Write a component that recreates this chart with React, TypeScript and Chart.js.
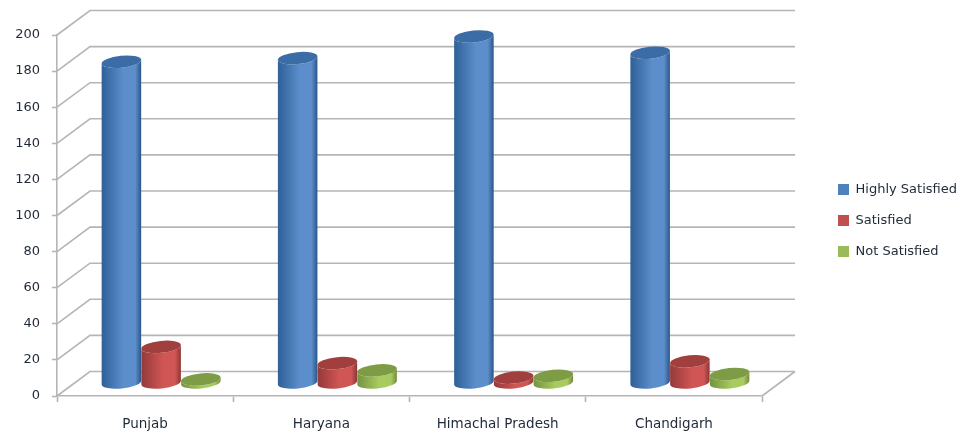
import React, { useEffect, useRef } from "react";
import { Chart, BarController, registerables } from "chart.js";

const categories = ["Punjab", "Haryana", "Himachal Pradesh", "Chandigarh"];
const seriesNames = ["Highly Satisfied", "Satisfied", "Not Satisfied"];
const highlySatisfied = [178, 180, 192, 183];
const satisfied = [20, 11, 3, 12];
const notSatisfied = [2, 7, 4, 5];

const fillColors = ["#4F81BD", "#C0504D", "#9BBB59"];
const shades = [
  { edgeL: "#2f5f97", mid: "#5b8ecb", edgeR: "#2a5488", top: "#3c6ca6" },
  { edgeL: "#94393a", mid: "#cf5654", edgeR: "#8c3534", top: "#a03f3d" },
  { edgeL: "#75923f", mid: "#a8ca5f", edgeR: "#6f8a3b", top: "#7e9b45" },
];

// Depth of the floor and the offset of a bar standing halfway across it.
const DEPTH_X = 33;
const DEPTH_Y = 24.5;
const BAR_DX = 16;
const BAR_DY = 13;
const TILT = -0.1;
const CAP_RY = 6;
const LINE = "#b5b5b5";
const TEXT = "#1f2937";
const FONT = "DejaVu Sans";

function paintCylinder(ctx: CanvasRenderingContext2D, bar: any, shade: (typeof shades)[number]) {
  const { x, y, base, width } = bar.getProps(["x", "y", "base", "width"], true);
  const cx = x + BAR_DX;
  const top = y - BAR_DY;
  const bottom = base - BAR_DY;
  const rx = width / 2;
  const g = ctx.createLinearGradient(cx - rx, 0, cx + rx, 0);
  g.addColorStop(0, shade.edgeL);
  g.addColorStop(0.55, shade.mid);
  g.addColorStop(0.85, shade.mid);
  g.addColorStop(1, shade.edgeR);
  ctx.save();
  ctx.beginPath();
  ctx.ellipse(cx, top, rx, CAP_RY, TILT, Math.PI, 0, true);
  ctx.ellipse(cx, bottom, rx, CAP_RY, TILT, 0, Math.PI, false);
  ctx.closePath();
  ctx.fillStyle = g;
  ctx.fill();
  ctx.beginPath();
  ctx.ellipse(cx, top, rx, CAP_RY, TILT, 0, Math.PI * 2);
  ctx.fillStyle = shade.top;
  ctx.fill();
  ctx.restore();
}

// Bar controller that paints values as shaded cylinders. Chart.js draws datasets from
// last to first, so the first dataset paints every series, left to right, each
// cylinder overlapping its left neighbour.
class CylinderController extends BarController {
  static id = "cylinder";
  draw() {
    if (this.index !== 0) return;
    const chart = this.chart;
    const metas = chart.data.datasets.map((_: unknown, i: number) => chart.getDatasetMeta(i));
    categories.forEach((_, c) => {
      metas.forEach((meta: any, s: number) => paintCylinder(chart.ctx, meta.data[c], shades[s]));
    });
  }
}

Chart.register(...registerables, CylinderController);

// Draws the back wall gridlines, the side wall rungs and the floor edge,
// and keeps the legend in the free band to the right of the plot.
const wallsPlugin = {
  id: "walls",
  beforeDatasetsDraw(chart: any) {
    const { ctx, chartArea, scales } = chart;
    const { left, right, bottom } = chartArea;
    ctx.save();
    ctx.strokeStyle = LINE;
    ctx.lineWidth = 1.6;
    scales.y.ticks.forEach((t: any) => {
      const py = scales.y.getPixelForValue(t.value);
      ctx.beginPath();
      ctx.moveTo(left, py);
      ctx.lineTo(left + DEPTH_X, py - DEPTH_Y);
      ctx.lineTo(right + DEPTH_X, py - DEPTH_Y);
      ctx.stroke();
    });
    ctx.beginPath();
    ctx.moveTo(right, bottom);
    ctx.lineTo(right + DEPTH_X, bottom - DEPTH_Y);
    ctx.stroke();
    ctx.restore();
  },
  beforeLayout(chart: any) {
    const legend = chart.legend;
    if (legend.fitWrapped) return;
    const fit = legend.fit;
    legend.fit = function () {
      fit.call(this);
      this.width = 198;
    };
    legend.fitWrapped = true;
  },
  afterLayout(chart: any) {
    const l = chart.legend;
    l.left = 820;
    l.right = 960;
    l.top = 165;
    l.bottom = 300;
  },
};

export default function App() {
  const ref = useRef<HTMLCanvasElement | null>(null);
  useEffect(() => {
    const values = [highlySatisfied, satisfied, notSatisfied];
    const chart = new Chart(ref.current!, {
      type: "cylinder" as any,
      data: {
        labels: categories,
        datasets: seriesNames.map((label, i) => ({
          label,
          data: values[i],
          backgroundColor: fillColors[i],
          borderWidth: 0,
          clip: false,
          categoryPercentage: 0.676,
          barPercentage: 1,
        })),
      },
      options: {
        responsive: false,
        animation: false,
        layout: { padding: { top: 35, left: 0, right: 0, bottom: 0 } },
        plugins: {
          tooltip: { enabled: false },
          legend: {
            position: "right",
            align: "start",
            labels: {
              boxWidth: 11,
              boxHeight: 11,
              padding: 18,
              color: TEXT,
              font: { family: FONT, size: 13 },
            },
          },
        },
        scales: {
          x: {
            type: "category",
            offset: true,
            afterFit: (s: any) => {
              s.height = 38;
            },
            grid: {
              offset: true,
              drawOnChartArea: false,
              drawTicks: true,
              tickLength: 6,
              tickColor: LINE,
              tickWidth: 1.6,
            },
            border: { color: LINE, width: 1.6 },
            ticks: { color: TEXT, padding: 14, maxRotation: 0, font: { family: FONT, size: 13.5 } },
          },
          y: {
            type: "linear",
            min: 0,
            max: 200,
            afterFit: (s: any) => {
              s.width = 57;
            },
            grid: {
              drawOnChartArea: false,
              drawTicks: true,
              tickLength: 5,
              tickColor: LINE,
              tickWidth: 1.6,
            },
            border: { color: LINE, width: 1.6 },
            ticks: { stepSize: 20, color: TEXT, padding: 12, font: { family: FONT, size: 13 } },
          },
        },
      } as any,
      plugins: [wallsPlugin],
    });
    return () => chart.destroy();
  }, []);
  return (
    <div style={{ position: "absolute", left: 0, top: 0, width: 960, height: 434, background: "#fff" }}>
      <canvas ref={ref} width={960} height={434} style={{ display: "block" }} />
    </div>
  );
}
